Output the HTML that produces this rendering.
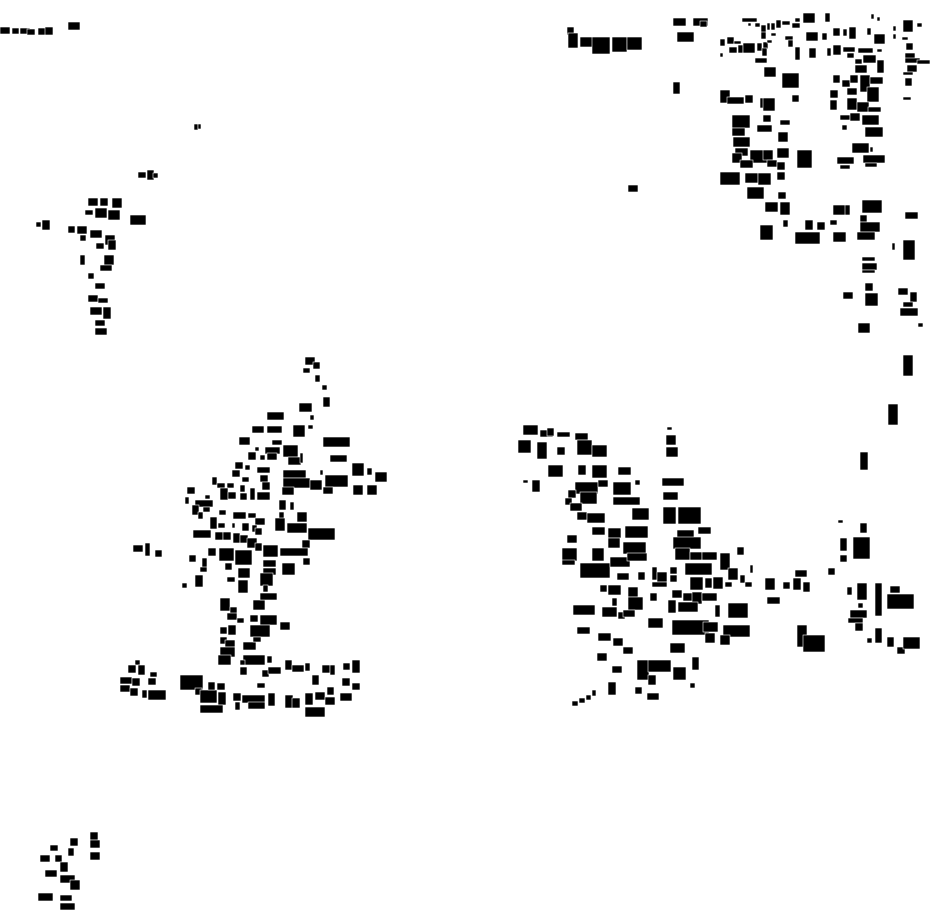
<!DOCTYPE html>
<html><head><meta charset="utf-8"><style>html,body{margin:0;padding:0;background:#fff}svg{display:block}</style></head>
<body>
<svg width="930" height="924" viewBox="0 0 930 924" xmlns="http://www.w3.org/2000/svg">
<g fill="#000" stroke="#fff" stroke-width="0.6">
<!-- top-left -->
<rect x="0" y="27" width="10" height="7"/><rect x="12" y="28" width="7" height="6"/><rect x="20" y="28" width="10" height="6"/><rect x="27" y="29" width="8" height="6"/><rect x="38" y="28" width="10" height="7"/><rect x="45" y="27" width="8" height="8"/><rect x="68" y="22" width="12" height="8"/>
<rect x="194" y="124" width="4" height="6"/><rect x="198" y="124" width="3" height="5"/>
<rect x="138" y="172" width="8" height="6"/><rect x="147" y="170" width="7" height="10"/><rect x="153" y="173" width="5" height="5"/>
<!-- left cluster -->
<rect x="36" y="222" width="5" height="5"/><rect x="42" y="220" width="8" height="10"/><rect x="68" y="226" width="7" height="7"/><rect x="77" y="226" width="10" height="8"/><rect x="88" y="198" width="10" height="8"/><rect x="100" y="198" width="8" height="8"/><rect x="112" y="198" width="10" height="10"/><rect x="85" y="210" width="8" height="5"/><rect x="95" y="208" width="12" height="10"/><rect x="108" y="210" width="12" height="10"/><rect x="130" y="215" width="16" height="10"/><rect x="80" y="235" width="6" height="6"/><rect x="90" y="230" width="12" height="8"/><rect x="105" y="235" width="10" height="10"/><rect x="96" y="243" width="8" height="6"/><rect x="108" y="240" width="8" height="10"/><rect x="80" y="255" width="5" height="10"/><rect x="104" y="255" width="10" height="10"/><rect x="100" y="265" width="12" height="6"/><rect x="88" y="273" width="6" height="6"/><rect x="95" y="283" width="10" height="6"/><rect x="88" y="295" width="10" height="7"/><rect x="98" y="298" width="10" height="5"/><rect x="90" y="307" width="12" height="8"/><rect x="103" y="307" width="8" height="12"/><rect x="95" y="320" width="10" height="6"/><rect x="95" y="328" width="12" height="7"/>
<!-- bottom-left -->
<rect x="90" y="832" width="8" height="8"/><rect x="90" y="840" width="10" height="8"/><rect x="90" y="852" width="10" height="8"/><rect x="70" y="838" width="8" height="8"/><rect x="50" y="845" width="8" height="6"/><rect x="40" y="855" width="10" height="7"/><rect x="55" y="855" width="7" height="7"/><rect x="60" y="862" width="8" height="10"/><rect x="68" y="848" width="6" height="8"/><rect x="45" y="870" width="12" height="7"/><rect x="60" y="875" width="15" height="8"/><rect x="70" y="880" width="10" height="10"/><rect x="38" y="893" width="15" height="8"/><rect x="60" y="895" width="12" height="6"/><rect x="60" y="903" width="15" height="7"/>
<!-- center-left cluster -->
<rect x="305" y="357" width="10" height="8"/><rect x="313" y="362" width="7" height="7"/><rect x="303" y="368" width="7" height="5"/><rect x="315" y="375" width="5" height="7"/><rect x="322" y="385" width="5" height="5"/><rect x="323" y="397" width="7" height="10"/><rect x="299" y="403" width="13" height="9"/><rect x="310" y="415" width="4" height="5"/><rect x="267" y="412" width="17" height="8"/><rect x="252" y="426" width="12" height="7"/><rect x="267" y="426" width="15" height="7"/><rect x="293" y="425" width="12" height="12"/><rect x="308" y="425" width="5" height="4"/><rect x="239" y="437" width="11" height="8"/><rect x="323" y="437" width="27" height="10"/><rect x="272" y="440" width="10" height="5"/><rect x="255" y="447" width="4" height="4"/><rect x="265" y="447" width="15" height="7"/><rect x="283" y="445" width="15" height="12"/><rect x="248" y="452" width="8" height="8"/><rect x="260" y="455" width="5" height="5"/><rect x="267" y="453" width="10" height="7"/><rect x="288" y="457" width="13" height="8"/><rect x="300" y="453" width="3" height="10"/><rect x="330" y="455" width="17" height="7"/><rect x="235" y="462" width="8" height="7"/><rect x="245" y="465" width="5" height="5"/><rect x="257" y="467" width="13" height="6"/><rect x="320" y="470" width="3" height="5"/><rect x="352" y="463" width="12" height="13"/><rect x="367" y="468" width="5" height="7"/><rect x="375" y="472" width="12" height="10"/><rect x="232" y="470" width="8" height="7"/><rect x="242" y="477" width="7" height="5"/><rect x="260" y="475" width="8" height="7"/><rect x="283" y="470" width="23" height="8"/><rect x="283" y="478" width="27" height="10"/><rect x="310" y="480" width="12" height="10"/><rect x="325" y="475" width="23" height="12"/><rect x="323" y="487" width="10" height="7"/><rect x="353" y="485" width="10" height="10"/><rect x="367" y="485" width="10" height="10"/><rect x="282" y="487" width="12" height="8"/><rect x="262" y="482" width="8" height="8"/><rect x="212" y="477" width="5" height="8"/><rect x="217" y="483" width="8" height="5"/><rect x="227" y="483" width="7" height="5"/><rect x="240" y="485" width="5" height="7"/><rect x="220" y="488" width="8" height="12"/><rect x="228" y="492" width="8" height="7"/><rect x="240" y="493" width="7" height="7"/><rect x="250" y="488" width="5" height="12"/><rect x="257" y="492" width="13" height="8"/><rect x="187" y="487" width="8" height="7"/><rect x="185" y="497" width="4" height="7"/><rect x="205" y="495" width="5" height="4"/><rect x="195" y="500" width="18" height="7"/><rect x="192" y="505" width="7" height="10"/><rect x="198" y="512" width="5" height="7"/><rect x="203" y="507" width="7" height="5"/><rect x="279" y="500" width="7" height="10"/><rect x="290" y="502" width="4" height="8"/><rect x="279" y="512" width="5" height="7"/><rect x="297" y="512" width="10" height="10"/><rect x="219" y="510" width="7" height="5"/><rect x="233" y="512" width="13" height="7"/><rect x="248" y="513" width="8" height="5"/><rect x="255" y="518" width="10" height="7"/><rect x="210" y="517" width="7" height="12"/><rect x="218" y="523" width="7" height="5"/><rect x="232" y="523" width="3" height="5"/><rect x="242" y="523" width="7" height="8"/><rect x="252" y="525" width="5" height="7"/><rect x="255" y="528" width="7" height="7"/><rect x="275" y="518" width="10" height="13"/><rect x="287" y="523" width="20" height="10"/><rect x="308" y="528" width="27" height="12"/><rect x="193" y="530" width="18" height="8"/><rect x="215" y="532" width="8" height="8"/><rect x="223" y="532" width="8" height="8"/><rect x="233" y="533" width="7" height="10"/><rect x="240" y="535" width="8" height="8"/><rect x="247" y="538" width="10" height="10"/><rect x="255" y="543" width="7" height="8"/><rect x="302" y="540" width="8" height="8"/><rect x="280" y="548" width="28" height="8"/><rect x="263" y="545" width="15" height="12"/><rect x="133" y="545" width="10" height="7"/><rect x="145" y="543" width="5" height="13"/><rect x="155" y="550" width="7" height="7"/><rect x="189" y="555" width="7" height="7"/><rect x="202" y="558" width="5" height="13"/><rect x="208" y="548" width="8" height="8"/><rect x="219" y="548" width="15" height="13"/><rect x="235" y="550" width="17" height="15"/><rect x="263" y="560" width="13" height="7"/><rect x="263" y="568" width="13" height="7"/><rect x="282" y="563" width="13" height="12"/><rect x="303" y="558" width="7" height="7"/><rect x="225" y="563" width="7" height="7"/><rect x="238" y="568" width="12" height="10"/><rect x="200" y="567" width="7" height="5"/><rect x="195" y="575" width="8" height="12"/><rect x="182" y="583" width="5" height="5"/><rect x="227" y="577" width="8" height="5"/><rect x="238" y="580" width="10" height="13"/><rect x="260" y="573" width="13" height="13"/><rect x="263" y="585" width="5" height="7"/><rect x="220" y="598" width="10" height="13"/><rect x="230" y="607" width="7" height="7"/><rect x="227" y="613" width="10" height="7"/><rect x="237" y="618" width="7" height="5"/><rect x="253" y="600" width="12" height="10"/><rect x="260" y="593" width="17" height="7"/><rect x="250" y="615" width="8" height="7"/><rect x="260" y="615" width="17" height="10"/><rect x="280" y="622" width="10" height="8"/><rect x="220" y="627" width="7" height="7"/><rect x="228" y="625" width="8" height="10"/><rect x="250" y="625" width="20" height="12"/><rect x="220" y="637" width="7" height="7"/><rect x="225" y="640" width="10" height="7"/><rect x="243" y="642" width="13" height="8"/><rect x="253" y="637" width="8" height="5"/><rect x="220" y="647" width="15" height="10"/><rect x="218" y="655" width="13" height="10"/><rect x="243" y="655" width="22" height="10"/><rect x="267" y="656" width="5" height="7"/><rect x="240" y="660" width="5" height="5"/><rect x="240" y="667" width="7" height="8"/><rect x="262" y="670" width="7" height="7"/><rect x="268" y="667" width="13" height="7"/><rect x="285" y="660" width="7" height="10"/><rect x="292" y="665" width="12" height="7"/><rect x="305" y="663" width="5" height="8"/><rect x="322" y="665" width="8" height="8"/><rect x="330" y="665" width="5" height="10"/><rect x="343" y="663" width="7" height="7"/><rect x="352" y="660" width="8" height="13"/><rect x="135" y="660" width="5" height="5"/><rect x="128" y="665" width="8" height="8"/><rect x="138" y="665" width="7" height="10"/><rect x="150" y="672" width="7" height="5"/><rect x="120" y="677" width="12" height="7"/><rect x="132" y="678" width="8" height="8"/><rect x="148" y="678" width="8" height="7"/><rect x="120" y="685" width="10" height="7"/><rect x="130" y="688" width="8" height="8"/><rect x="142" y="690" width="5" height="8"/><rect x="148" y="690" width="18" height="10"/><rect x="180" y="675" width="23" height="15"/><rect x="195" y="688" width="7" height="7"/><rect x="200" y="690" width="17" height="13"/><rect x="208" y="682" width="7" height="8"/><rect x="217" y="683" width="8" height="7"/><rect x="218" y="692" width="8" height="13"/><rect x="200" y="705" width="23" height="8"/><rect x="233" y="693" width="8" height="8"/><rect x="235" y="702" width="5" height="8"/><rect x="242" y="695" width="23" height="8"/><rect x="248" y="702" width="17" height="7"/><rect x="268" y="693" width="7" height="13"/><rect x="257" y="683" width="8" height="5"/><rect x="285" y="695" width="8" height="13"/><rect x="292" y="698" width="8" height="10"/><rect x="305" y="693" width="8" height="12"/><rect x="305" y="707" width="20" height="10"/><rect x="315" y="692" width="10" height="8"/><rect x="327" y="687" width="7" height="8"/><rect x="325" y="697" width="10" height="8"/><rect x="340" y="693" width="12" height="8"/><rect x="342" y="678" width="8" height="8"/><rect x="352" y="683" width="8" height="7"/><rect x="312" y="675" width="7" height="10"/>
<!-- center-right cluster -->
<rect x="523" y="425" width="15" height="10"/><rect x="540" y="430" width="13" height="7"/><rect x="547" y="428" width="7" height="8"/><rect x="557" y="432" width="13" height="5"/><rect x="575" y="433" width="13" height="7"/><rect x="518" y="440" width="13" height="13"/><rect x="537" y="442" width="10" height="17"/><rect x="557" y="447" width="8" height="8"/><rect x="577" y="440" width="15" height="15"/><rect x="592" y="445" width="15" height="12"/><rect x="667" y="427" width="5" height="3"/><rect x="666" y="435" width="10" height="10"/><rect x="666" y="447" width="12" height="10"/><rect x="890" y="420" width="8" height="5"/><rect x="548" y="465" width="15" height="12"/><rect x="578" y="465" width="8" height="10"/><rect x="592" y="465" width="15" height="13"/><rect x="618" y="467" width="13" height="8"/><rect x="523" y="480" width="5" height="3"/><rect x="532" y="480" width="8" height="12"/><rect x="635" y="480" width="5" height="5"/><rect x="662" y="478" width="22" height="8"/><rect x="860" y="452" width="8" height="18"/><rect x="575" y="482" width="23" height="12"/><rect x="598" y="480" width="10" height="7"/><rect x="613" y="482" width="18" height="13"/><rect x="663" y="492" width="15" height="8"/><rect x="568" y="490" width="8" height="8"/><rect x="580" y="492" width="17" height="12"/><rect x="565" y="498" width="7" height="7"/><rect x="570" y="503" width="12" height="8"/><rect x="613" y="497" width="27" height="8"/><rect x="577" y="512" width="10" height="8"/><rect x="587" y="513" width="18" height="10"/><rect x="632" y="508" width="17" height="12"/><rect x="663" y="507" width="13" height="17"/><rect x="678" y="507" width="23" height="17"/><rect x="592" y="527" width="13" height="8"/><rect x="608" y="528" width="13" height="10"/><rect x="625" y="526" width="23" height="12"/><rect x="677" y="530" width="17" height="10"/><rect x="698" y="527" width="13" height="7"/><rect x="673" y="537" width="28" height="12"/><rect x="567" y="535" width="10" height="8"/><rect x="608" y="538" width="12" height="10"/><rect x="623" y="542" width="23" height="12"/><rect x="562" y="548" width="15" height="13"/><rect x="592" y="548" width="12" height="13"/><rect x="562" y="560" width="13" height="5"/><rect x="580" y="563" width="30" height="15"/><rect x="610" y="557" width="20" height="10"/><rect x="627" y="553" width="20" height="8"/><rect x="675" y="548" width="15" height="12"/><rect x="690" y="552" width="12" height="8"/><rect x="702" y="552" width="15" height="8"/><rect x="720" y="553" width="10" height="17"/><rect x="737" y="547" width="7" height="8"/><rect x="652" y="567" width="5" height="13"/><rect x="657" y="572" width="10" height="10"/><rect x="670" y="567" width="7" height="7"/><rect x="685" y="563" width="27" height="12"/><rect x="728" y="568" width="10" height="12"/><rect x="750" y="565" width="3" height="8"/><rect x="617" y="573" width="12" height="7"/><rect x="638" y="572" width="7" height="8"/><rect x="652" y="582" width="15" height="5"/><rect x="670" y="575" width="7" height="7"/><rect x="690" y="577" width="13" height="13"/><rect x="705" y="578" width="7" height="10"/><rect x="713" y="577" width="10" height="12"/><rect x="725" y="582" width="7" height="5"/><rect x="740" y="575" width="5" height="8"/><rect x="745" y="582" width="7" height="5"/><rect x="600" y="585" width="7" height="7"/><rect x="608" y="585" width="13" height="10"/><rect x="628" y="587" width="10" height="10"/><rect x="650" y="593" width="7" height="8"/><rect x="672" y="590" width="10" height="8"/><rect x="683" y="593" width="10" height="8"/><rect x="692" y="592" width="10" height="12"/><rect x="702" y="593" width="15" height="8"/><rect x="612" y="598" width="5" height="8"/><rect x="628" y="597" width="15" height="13"/><rect x="668" y="600" width="8" height="13"/><rect x="678" y="602" width="20" height="10"/><rect x="715" y="605" width="5" height="12"/><rect x="728" y="603" width="20" height="15"/><rect x="573" y="605" width="22" height="10"/><rect x="602" y="607" width="15" height="10"/><rect x="618" y="612" width="7" height="7"/><rect x="623" y="610" width="12" height="7"/><rect x="648" y="618" width="15" height="10"/><rect x="672" y="620" width="37" height="15"/><rect x="703" y="622" width="15" height="10"/><rect x="723" y="625" width="27" height="12"/><rect x="765" y="578" width="10" height="12"/><rect x="783" y="582" width="7" height="7"/><rect x="793" y="578" width="8" height="12"/><rect x="803" y="582" width="7" height="10"/><rect x="795" y="570" width="12" height="7"/><rect x="767" y="597" width="13" height="7"/><rect x="838" y="520" width="5" height="3"/><rect x="860" y="523" width="7" height="10"/><rect x="840" y="538" width="7" height="13"/><rect x="840" y="555" width="7" height="7"/><rect x="853" y="537" width="17" height="22"/><rect x="828" y="568" width="7" height="7"/><rect x="847" y="587" width="5" height="8"/><rect x="857" y="583" width="10" height="17"/><rect x="858" y="603" width="5" height="5"/><rect x="850" y="610" width="17" height="8"/><rect x="848" y="618" width="15" height="5"/><rect x="855" y="623" width="8" height="8"/><rect x="875" y="583" width="7" height="33"/><rect x="887" y="594" width="27" height="15"/><rect x="890" y="586" width="10" height="7"/><rect x="875" y="628" width="7" height="15"/><rect x="867" y="638" width="5" height="5"/><rect x="887" y="637" width="7" height="10"/><rect x="897" y="647" width="8" height="7"/><rect x="903" y="637" width="17" height="12"/><rect x="797" y="625" width="10" height="22"/><rect x="803" y="635" width="22" height="17"/><rect x="577" y="627" width="13" height="7"/><rect x="598" y="633" width="13" height="8"/><rect x="613" y="638" width="10" height="8"/><rect x="623" y="647" width="10" height="7"/><rect x="670" y="643" width="15" height="10"/><rect x="705" y="633" width="10" height="10"/><rect x="720" y="635" width="10" height="10"/><rect x="597" y="653" width="10" height="8"/><rect x="612" y="666" width="10" height="7"/><rect x="637" y="660" width="12" height="20"/><rect x="648" y="660" width="23" height="12"/><rect x="648" y="675" width="8" height="10"/><rect x="673" y="667" width="13" height="13"/><rect x="692" y="657" width="7" height="13"/><rect x="690" y="683" width="5" height="5"/><rect x="635" y="687" width="7" height="7"/><rect x="647" y="693" width="12" height="7"/><rect x="608" y="682" width="8" height="13"/><rect x="572" y="701" width="6" height="5"/><rect x="579" y="698" width="6" height="5"/><rect x="586" y="695" width="5" height="5"/><rect x="592" y="690" width="4" height="6"/>
<!-- top-right cluster -->
<rect x="567" y="27" width="7" height="8"/><rect x="568" y="33" width="10" height="15"/><rect x="580" y="37" width="17" height="10"/><rect x="592" y="37" width="18" height="17"/><rect x="612" y="37" width="15" height="15"/><rect x="627" y="37" width="15" height="13"/><rect x="673" y="18" width="13" height="8"/><rect x="693" y="18" width="15" height="8"/><rect x="677" y="32" width="17" height="10"/><rect x="673" y="82" width="7" height="12"/><rect x="628" y="185" width="10" height="7"/>
<rect x="700" y="21" width="7" height="6"/><rect x="742" y="18" width="15" height="4"/><rect x="748" y="23" width="3" height="3"/><rect x="755" y="23" width="5" height="4"/><rect x="761" y="25" width="5" height="12"/><rect x="767" y="23" width="3" height="7"/><rect x="771" y="23" width="4" height="7"/><rect x="776" y="20" width="5" height="8"/><rect x="782" y="21" width="8" height="4"/><rect x="792" y="23" width="8" height="5"/><rect x="795" y="18" width="5" height="4"/><rect x="803" y="13" width="12" height="10"/><rect x="825" y="13" width="5" height="9"/><rect x="871" y="14" width="3" height="5"/><rect x="877" y="17" width="3" height="4"/><rect x="903" y="20" width="10" height="12"/><rect x="917" y="23" width="5" height="4"/><rect x="893" y="26" width="3" height="5"/><rect x="771" y="33" width="5" height="3"/><rect x="761" y="32" width="5" height="7"/><rect x="785" y="36" width="8" height="4"/><rect x="788" y="40" width="5" height="7"/><rect x="806" y="32" width="12" height="9"/><rect x="822" y="33" width="5" height="7"/><rect x="833" y="28" width="7" height="8"/><rect x="843" y="29" width="4" height="7"/><rect x="849" y="27" width="7" height="12"/><rect x="867" y="28" width="4" height="7"/><rect x="874" y="34" width="11" height="10"/><rect x="893" y="34" width="3" height="5"/><rect x="902" y="37" width="6" height="3"/><rect x="906" y="43" width="7" height="7"/><rect x="720" y="39" width="5" height="7"/><rect x="727" y="37" width="7" height="7"/><rect x="734" y="41" width="7" height="3"/><rect x="729" y="47" width="8" height="6"/><rect x="738" y="45" width="5" height="8"/><rect x="743" y="43" width="12" height="10"/><rect x="757" y="43" width="5" height="8"/><rect x="763" y="42" width="5" height="7"/><rect x="767" y="40" width="5" height="3"/><rect x="762" y="48" width="5" height="8"/><rect x="720" y="53" width="3" height="4"/><rect x="755" y="58" width="12" height="5"/><rect x="764" y="67" width="12" height="10"/><rect x="795" y="47" width="5" height="13"/><rect x="809" y="48" width="7" height="10"/><rect x="827" y="48" width="4" height="8"/><rect x="833" y="45" width="8" height="10"/><rect x="843" y="47" width="12" height="5"/><rect x="847" y="53" width="7" height="5"/><rect x="858" y="48" width="15" height="5"/><rect x="877" y="49" width="5" height="3"/><rect x="855" y="59" width="7" height="5"/><rect x="863" y="55" width="13" height="8"/><rect x="855" y="65" width="12" height="8"/><rect x="877" y="60" width="7" height="13"/><rect x="905" y="53" width="10" height="8"/><rect x="905" y="58" width="15" height="5"/><rect x="917" y="60" width="13" height="4"/><rect x="907" y="65" width="10" height="7"/><rect x="903" y="72" width="10" height="3"/>
<rect x="782" y="73" width="17" height="15"/><rect x="833" y="75" width="7" height="8"/><rect x="842" y="80" width="8" height="7"/><rect x="850" y="75" width="8" height="8"/><rect x="860" y="75" width="10" height="17"/><rect x="870" y="77" width="13" height="7"/><rect x="867" y="87" width="12" height="15"/><rect x="830" y="90" width="8" height="8"/><rect x="830" y="100" width="7" height="10"/><rect x="847" y="88" width="10" height="7"/><rect x="847" y="98" width="10" height="12"/><rect x="857" y="102" width="12" height="10"/><rect x="868" y="107" width="13" height="5"/><rect x="840" y="115" width="10" height="5"/><rect x="850" y="113" width="10" height="8"/><rect x="862" y="115" width="17" height="10"/><rect x="842" y="125" width="5" height="5"/><rect x="865" y="127" width="18" height="10"/><rect x="852" y="143" width="17" height="10"/><rect x="870" y="147" width="3" height="5"/><rect x="837" y="157" width="17" height="7"/><rect x="840" y="165" width="10" height="4"/><rect x="863" y="155" width="22" height="8"/><rect x="865" y="163" width="12" height="4"/><rect x="903" y="97" width="8" height="3"/><rect x="905" y="78" width="7" height="8"/><rect x="720" y="90" width="10" height="13"/><rect x="727" y="97" width="17" height="7"/><rect x="745" y="95" width="8" height="8"/><rect x="760" y="98" width="7" height="10"/><rect x="763" y="98" width="12" height="13"/><rect x="763" y="115" width="8" height="7"/><rect x="757" y="125" width="15" height="7"/><rect x="792" y="95" width="7" height="7"/><rect x="780" y="120" width="10" height="5"/><rect x="778" y="132" width="10" height="10"/><rect x="732" y="115" width="18" height="13"/><rect x="732" y="128" width="13" height="8"/><rect x="733" y="137" width="17" height="10"/><rect x="735" y="148" width="13" height="8"/><rect x="750" y="150" width="20" height="13"/><rect x="763" y="150" width="10" height="10"/><rect x="777" y="148" width="12" height="10"/><rect x="797" y="150" width="15" height="18"/><rect x="720" y="172" width="20" height="13"/><rect x="732" y="153" width="10" height="10"/><rect x="740" y="160" width="13" height="8"/><rect x="745" y="173" width="13" height="10"/><rect x="758" y="173" width="13" height="12"/><rect x="767" y="160" width="10" height="7"/><rect x="777" y="162" width="8" height="8"/><rect x="777" y="172" width="8" height="8"/><rect x="747" y="187" width="17" height="12"/><rect x="778" y="192" width="8" height="7"/><rect x="765" y="202" width="13" height="10"/><rect x="780" y="202" width="10" height="13"/><rect x="833" y="205" width="13" height="10"/><rect x="845" y="205" width="5" height="10"/><rect x="862" y="200" width="20" height="13"/><rect x="860" y="215" width="7" height="7"/><rect x="860" y="222" width="20" height="10"/><rect x="857" y="232" width="18" height="8"/><rect x="760" y="225" width="13" height="15"/><rect x="783" y="220" width="5" height="7"/><rect x="805" y="220" width="8" height="10"/><rect x="817" y="222" width="8" height="8"/><rect x="830" y="220" width="7" height="5"/><rect x="795" y="232" width="25" height="12"/><rect x="833" y="232" width="13" height="10"/><rect x="905" y="212" width="13" height="7"/><rect x="892" y="243" width="3" height="7"/><rect x="903" y="240" width="12" height="20"/><rect x="862" y="257" width="13" height="4"/><rect x="862" y="263" width="15" height="7"/><rect x="862" y="270" width="13" height="3"/><rect x="865" y="283" width="8" height="8"/><rect x="865" y="293" width="13" height="13"/><rect x="843" y="292" width="10" height="7"/><rect x="898" y="288" width="10" height="7"/><rect x="910" y="292" width="7" height="10"/><rect x="903" y="302" width="10" height="5"/><rect x="900" y="308" width="18" height="8"/><rect x="918" y="323" width="5" height="4"/><rect x="858" y="323" width="12" height="10"/>
<rect x="903" y="355" width="10" height="21"/><rect x="888" y="404" width="10" height="21"/>
</g>
</svg>
</body></html>
